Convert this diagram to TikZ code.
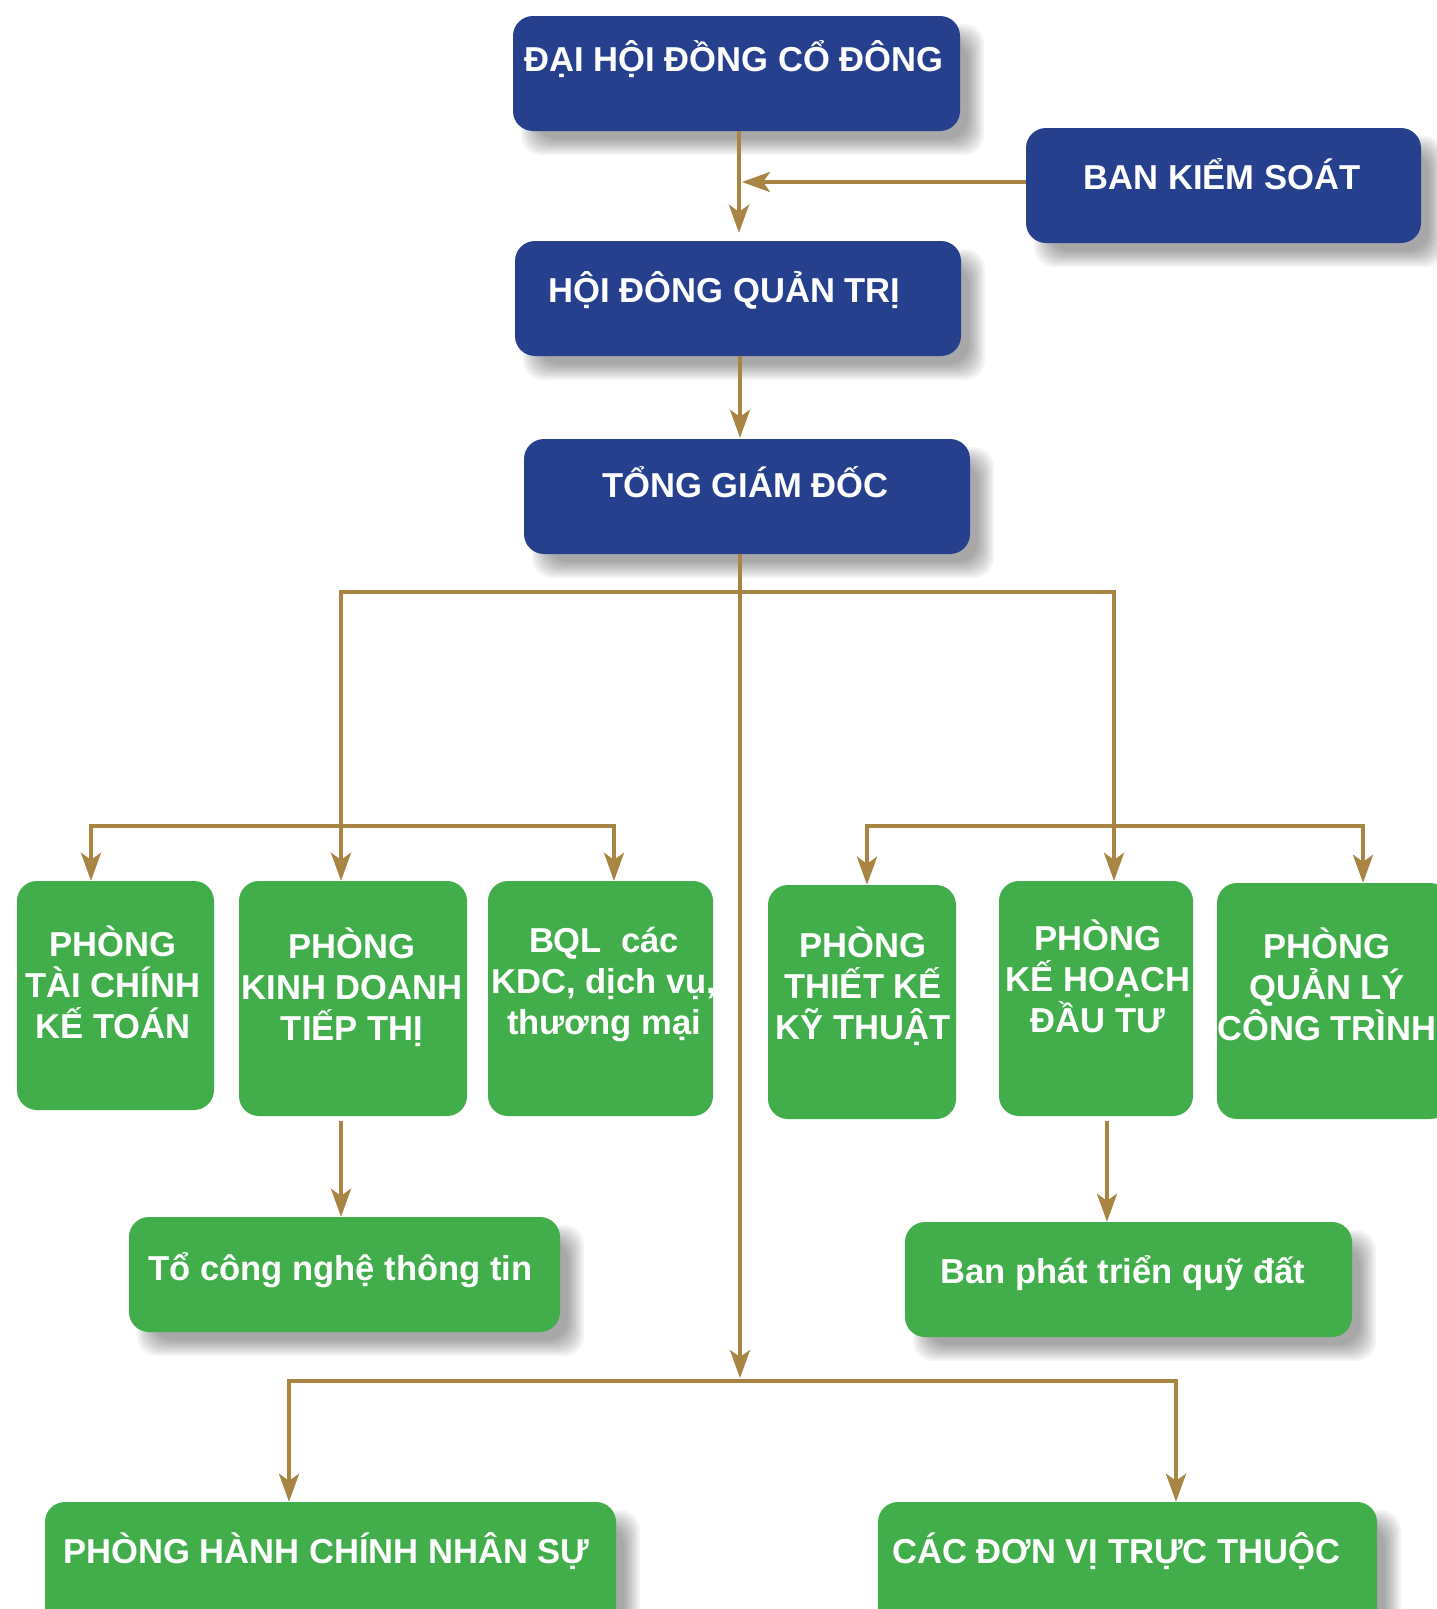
\documentclass[tikz,border=0pt]{standalone}
\usepackage{fontspec}
\setmainfont{Liberation Sans}
\usetikzlibrary{arrows.meta}
\definecolor{navy}{RGB}{38,64,142}
\definecolor{grn}{RGB}{65,174,75}
\definecolor{brn}{RGB}{168,133,66}
\newcommand\mkbox[6]{%
  \node[#1, minimum width={#5-#3}, minimum height={#6-#4}] (#2) at ({(#3+#5)/2},{(#4+#6)/2}) {};}
\newcommand\mkshadow[4]{%
  \foreach \e in {-8,-6,...,8}{%
    \fill[black, fill opacity=0.045, rounded corners=20pt] ({#1+16-\e},{#2+16-\e}) rectangle ({#3+16+\e},{#4+16+\e});}}
\newcommand\topst{\rule{0pt}{38pt}}
\newcommand\botst{\rule[-10pt]{0pt}{10pt}}
\begin{document}
\begin{tikzpicture}[x=1pt,y=-1pt,
  box/.style={rectangle, rounded corners=20pt, inner sep=0pt, draw=none},
  bluebox/.style={box, fill=navy},
  greenbox/.style={box, fill=grn},
  lbl/.style={text=white, font=\bfseries\fontsize{34.6}{41}\selectfont, inner sep=0pt},
  mlbl/.style={lbl, align=center, anchor=north},
  slbl/.style={lbl, anchor=base},
  wlbl/.style={lbl, anchor=base west},
  link/.style={draw=brn, line width=4pt},
  conn/.style={link, -{Stealth[length=28pt,width=20pt,inset=7pt]}},
  conn2/.style={link, {Stealth[length=28pt,width=20pt,inset=7pt]}-{Stealth[length=28pt,width=20pt,inset=7pt]}}]
\fill[white] (0,0) rectangle (1436,1609);
\useasboundingbox (0,0) rectangle (1436,1609);
% shadows
\mkshadow{513}{16}{960}{131}
\mkshadow{1026}{128}{1421}{243}
\mkshadow{515}{241}{961}{356}
\mkshadow{524}{439}{970}{554}
\mkshadow{129}{1217}{560}{1332}
\mkshadow{905}{1222}{1352}{1337}
\mkshadow{45}{1502}{616}{1700}
\mkshadow{878}{1502}{1377}{1700}
% boxes
\mkbox{bluebox}{dh}{513}{16}{960}{131}
\mkbox{bluebox}{bks}{1026}{128}{1421}{243}
\mkbox{bluebox}{hd}{515}{241}{961}{356}
\mkbox{bluebox}{tg}{524}{439}{970}{554}
\mkbox{greenbox}{p1}{17}{881}{214}{1110}
\mkbox{greenbox}{p2}{239}{881}{467}{1116}
\mkbox{greenbox}{p3}{488}{881}{713}{1116}
\mkbox{greenbox}{p4}{768}{885}{956}{1119}
\mkbox{greenbox}{p5}{999}{881}{1193}{1116}
\mkbox{greenbox}{p6}{1217}{883}{1450}{1119}
\mkbox{greenbox}{it}{129}{1217}{560}{1332}
\mkbox{greenbox}{bp}{905}{1222}{1352}{1337}
\mkbox{greenbox}{hc}{45}{1502}{616}{1700}
\mkbox{greenbox}{dv}{878}{1502}{1377}{1700}
% junction coordinates
\coordinate (xm) at (739,0);
\coordinate (bksy) at (742,182);
\coordinate (ja) at (341,592);
\coordinate (jc) at (1114,592);
\coordinate (jl1) at (91,826);
\coordinate (jl3) at (614,826);
\coordinate (jr4) at (867,826);
\coordinate (jr6) at (1363,826);
\coordinate (jb) at (740,1381);
\coordinate (jbl) at (289,1381);
\coordinate (jbr) at (1176,1381);
\coordinate (xk) at (1107,0);
% connectors
\draw[conn] (bks.west |- bksy) -- (bksy);
\draw[conn, shorten >=8pt] (dh.south -| xm) -- (hd.north -| xm);
\draw[conn, shorten >=1pt] (hd.south -| jb) -- (tg.north -| jb);
\draw[conn, shorten >=3pt] (tg.south -| jb) -- (jb);
\draw[conn2] (p2.north -| ja) -- (ja) -- (jc) -- (p5.north -| jc);
\draw[conn2] (p1.north -| jl1) -- (jl1) -- (jl3) -- (p3.north -| jl3);
\draw[conn2] (p4.north -| jr4) -- (jr4) -- (jr6) -- (p6.north -| jr6);
\draw[conn2] (hc.north -| jbl) -- (jbl) -- (jbr) -- (dv.north -| jbr);
\draw[conn, shorten <=5pt] (p2.south -| ja) -- (it.north -| ja);
\draw[conn, shorten <=5pt] (p5.south -| xk) -- (bp.north -| xk);
% texts
\node[slbl] (tdh) at (734,71) {ĐẠI HỘI ĐỒNG CỔ ĐÔNG};
\node[slbl] (tbks) at (1222,189) {BAN KIỂM SOÁT};
\node[slbl] (thd) at (724.5,302) {HỘI ĐÔNG QUẢN TRỊ};
\node[slbl] (ttg) at (745.5,497) {TỔNG GIÁM ĐỐC};
\node[mlbl] (tp1) at (113,918) {\topst PHÒNG\\TÀI CHÍNH\\KẾ TOÁN\botst};
\node[mlbl] (tp2) at (352,920) {\topst PHÒNG\\KINH DOANH\\TIẾP THỊ\botst};
\node[mlbl] (tp3) at (604,914) {\topst BQL\ \ các\\KDC, dịch vụ,\\thương mại\botst};
\node[mlbl] (tp4) at (863,919) {\topst PHÒNG\\THIẾT KẾ\\KỸ THUẬT\botst};
\node[mlbl] (tp5) at (1098,912) {\topst PHÒNG\\KẾ HOẠCH\\ĐẦU TƯ\botst};
\node[mlbl] (tp6) at (1327,920) {\topst PHÒNG\\QUẢN LÝ\\CÔNG TRÌNH\botst};
\node[wlbl] (tit) at (148,1280) {Tổ công nghệ thông tin};
\node[wlbl] (tbp) at (940,1283) {Ban phát triển quỹ đất};
\node[wlbl] (thc) at (63,1563) {PHÒNG HÀNH CHÍNH NHÂN SỰ};
\node[wlbl] (tdv) at (892,1563) {CÁC ĐƠN VỊ TRỰC THUỘC};
\end{tikzpicture}
\end{document}
